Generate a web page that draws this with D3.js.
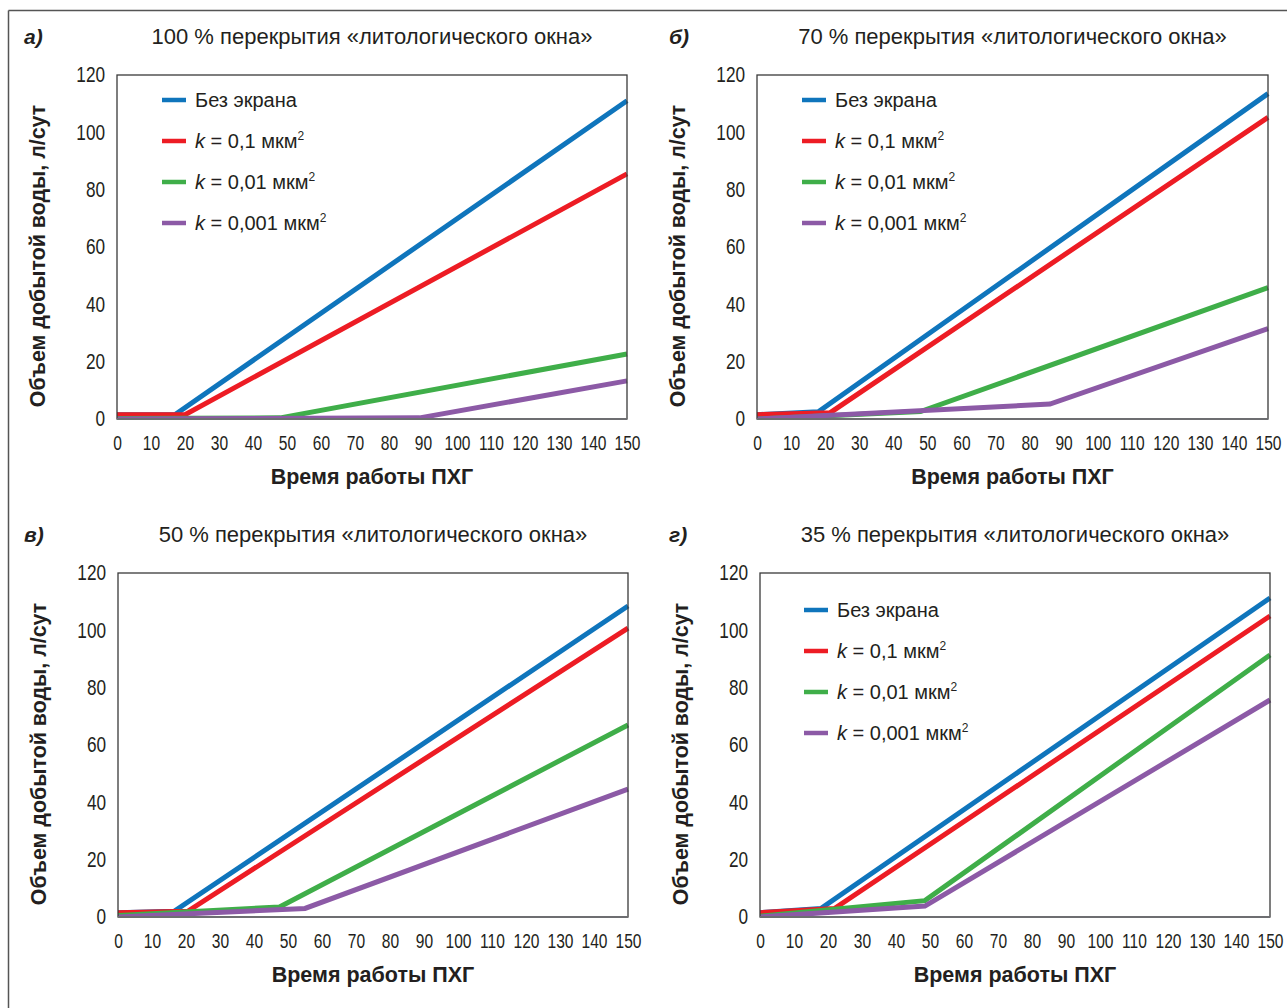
<!DOCTYPE html>
<html>
<head>
<meta charset="utf-8">
<script src="https://cdn.jsdelivr.net/npm/d3@7"></script>
<style>
  html, body { margin: 0; padding: 0; background: #fff; }
  svg { display: block; }
  text { font-family: "Liberation Sans", Arial, sans-serif; }
</style>
</head>
<body>
<svg id="chart" width="1287" height="1008"></svg>
<script>
// ---------- DATA ----------
const xTicks = [0, 10, 20, 30, 40, 50, 60, 70, 80, 90, 100, 110, 120, 130, 140, 150];
const yTicks = [0, 20, 40, 60, 80, 100, 120];
const seriesKeys = ["none", "k01", "k001", "k0001"];
const seriesLabels = ["Без экрана", "0,1", "0,01", "0,001"];
const panelLetters = ["а)", "б)", "в)", "г)"];
const panelTitles = [
  "100 % перекрытия «литологического окна»",
  "70 % перекрытия «литологического окна»",
  "50 % перекрытия «литологического окна»",
  "35 % перекрытия «литологического окна»"
];
const xAxisTitle = "Время работы ПХГ";
const yAxisTitle = "Объем добытой воды, л/сут";

// panel а) 100 %
const p100_none  = [[0, 1.5], [17, 1.5], [150, 111]];
const p100_k01   = [[0, 1.5], [20, 1.5], [150, 85.5]];
const p100_k001  = [[0, 0.2], [48, 0.4], [150, 22.7]];
const p100_k0001 = [[0, 0], [89, 0.4], [150, 13.3]];
// panel б) 70 %
const p70_none  = [[0, 1.5], [18, 2.5], [150, 113.5]];
const p70_k01   = [[0, 1.5], [21.5, 2.2], [150, 105.2]];
const p70_k001  = [[0, 0], [48, 2.6], [150, 45.8]];
const p70_k0001 = [[0, 0], [86, 5.2], [150, 31.5]];
// panel в) 50 %
const p50_none  = [[0, 1.5], [16.5, 2], [150, 108.5]];
const p50_k01   = [[0, 1.5], [20.5, 2], [150, 100.8]];
const p50_k001  = [[0, 0.5], [47.5, 3.5], [150, 67]];
const p50_k0001 = [[0, 0], [55, 3], [150, 44.6]];
// panel г) 35 %
const p35_none  = [[0, 1.5], [18, 3], [150, 111.3]];
const p35_k01   = [[0, 1.5], [22, 3], [150, 105]];
const p35_k001  = [[0, 0.3], [48.5, 5.7], [150, 91.4]];
const p35_k0001 = [[0, 0], [48.5, 3.8], [150, 75.7]];

const panelSeries = [
  [p100_none, p100_k01, p100_k001, p100_k0001],
  [p70_none, p70_k01, p70_k001, p70_k0001],
  [p50_none, p50_k01, p50_k001, p50_k0001],
  [p35_none, p35_k01, p35_k001, p35_k0001]
];

// ---------- STYLE / LAYOUT ----------
const colors = ["#0f75bc", "#ed1c24", "#3fae49", "#8c5aa6"];
const textColor = "#231f20";
const layout = [
  { left: 117, right: 627, top: 75, bottom: 419, letterX: 24, legend: { dx: 45, dy: 25 } },
  { left: 757, right: 1268, top: 75, bottom: 419, letterX: 669, legend: { dx: 45, dy: 25 } },
  { left: 118, right: 628, top: 573, bottom: 917, letterX: 24, legend: null },
  { left: 760, right: 1270, top: 573, bottom: 917, letterX: 669, legend: { dx: 44, dy: 37 } }
];
const xTickScale = 0.76, yTickScale = 0.8;

const svg = d3.select("#chart");

// outer frame (top and left edges)
svg.append("line").attr("x1", 8.5).attr("x2", 1287).attr("y1", 10.5).attr("y2", 10.5)
  .attr("stroke", "#555").attr("stroke-width", 1.5);
svg.append("line").attr("x1", 8.5).attr("x2", 8.5).attr("y1", 10.5).attr("y2", 1008)
  .attr("stroke", "#555").attr("stroke-width", 1.5);

layout.forEach((L, i) => {
  const g = svg.append("g");
  const x = d3.scaleLinear().domain([0, 150]).range([L.left, L.right]);
  const y = d3.scaleLinear().domain([0, 120]).range([L.bottom, L.top]);
  const cx = (L.left + L.right) / 2;

  // panel letter
  g.append("text").attr("x", L.letterX).attr("y", L.top - 31)
    .attr("font-weight", "bold").attr("font-style", "italic")
    .attr("font-size", 21).attr("fill", textColor)
    .text(panelLetters[i]);

  // title
  g.append("text").attr("x", cx).attr("y", L.top - 31)
    .attr("text-anchor", "middle").attr("font-size", 22).attr("fill", textColor)
    .text(panelTitles[i]);

  // x axis
  const xa = g.append("g").attr("transform", `translate(0,${L.bottom})`)
    .call(d3.axisBottom(x).tickValues(xTicks).tickSize(0).tickPadding(16));
  xa.select(".domain").remove();
  xa.selectAll("text")
    .attr("font-family", "Liberation Sans, Arial, sans-serif")
    .attr("font-size", 20.5).attr("fill", textColor)
    .attr("transform", `scale(${xTickScale},1)`);

  // y axis
  const ya = g.append("g").attr("transform", `translate(${L.left},0)`)
    .call(d3.axisLeft(y).tickValues(yTicks).tickSize(0).tickPadding(12));
  ya.select(".domain").remove();
  ya.selectAll("text")
    .attr("font-family", "Liberation Sans, Arial, sans-serif")
    .attr("font-size", 21.5).attr("fill", textColor)
    .attr("x", -12 / yTickScale)
    .attr("transform", `scale(${yTickScale},1)`);

  // axis titles
  g.append("text").attr("x", cx).attr("y", L.bottom + 65)
    .attr("text-anchor", "middle")
    .attr("font-weight", "bold").attr("font-size", 21.5).attr("fill", textColor)
    .text(xAxisTitle);
  g.append("text")
    .attr("transform", `translate(${L.left - 72},${(L.top + L.bottom) / 2 + 9}) rotate(-90)`)
    .attr("text-anchor", "middle")
    .attr("font-weight", "bold").attr("font-size", 21.4).attr("fill", textColor)
    .text(yAxisTitle);

  // series lines
  const line = d3.line().x(d => x(d[0])).y(d => y(d[1]));
  const clipId = "clip" + i;
  g.append("clipPath").attr("id", clipId).append("rect")
    .attr("x", L.left).attr("y", L.top - 5).attr("width", L.right - L.left + 3).attr("height", L.bottom - L.top + 5);
  g.selectAll("path.series").data(panelSeries[i]).enter().append("path")
    .attr("class", "series")
    .attr("clip-path", `url(#${clipId})`)
    .attr("d", line)
    .attr("fill", "none")
    .attr("stroke", (d, j) => colors[j])
    .attr("stroke-width", 5)
    .attr("stroke-linejoin", "miter");

  // plot frame
  g.append("rect").attr("x", L.left).attr("y", L.top)
    .attr("width", L.right - L.left).attr("height", L.bottom - L.top)
    .attr("fill", "none").attr("stroke", "#3a3a3a").attr("stroke-width", 1.3);
  g.append("line").attr("x1", L.left).attr("x2", L.right).attr("y1", L.bottom).attr("y2", L.bottom)
    .attr("stroke", "#6d6e71").attr("stroke-width", 2);

  // legend
  if (L.legend) {
    const lg = g.append("g").attr("transform", `translate(${L.left + L.legend.dx},${L.top + L.legend.dy})`);
    seriesKeys.forEach((k, j) => {
      const row = lg.append("g").attr("transform", `translate(0,${j * 41})`);
      row.append("line").attr("x1", 0).attr("x2", 24).attr("y1", 0).attr("y2", 0)
        .attr("stroke", colors[j]).attr("stroke-width", 4.5);
      const t = row.append("text").attr("x", 33).attr("y", 7)
        .attr("font-size", 20).attr("fill", textColor);
      if (j === 0) {
        t.text(seriesLabels[j]);
      } else {
        t.append("tspan").attr("font-style", "italic").text("k");
        t.append("tspan").text(" = " + seriesLabels[j] + " мкм");
        t.append("tspan").attr("font-size", 12).attr("dy", -8).text("2");
      }
    });
  }
});
</script>
</body>
</html>
